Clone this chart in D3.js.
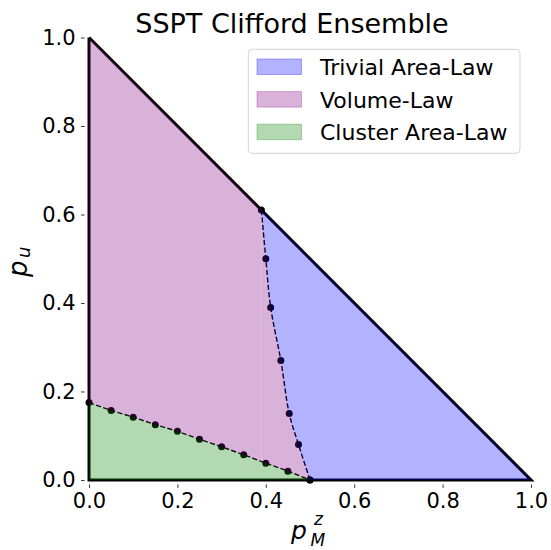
<!DOCTYPE html>
<html>
<head>
<meta charset="utf-8">
<script src="https://cdn.jsdelivr.net/npm/d3@7"></script>
<style>
  html, body { margin: 0; padding: 0; background: #fff; }
  svg { display: block; font-family: "DejaVu Sans", sans-serif; }
</style>
</head>
<body>
<svg id="chart" width="551" height="550"></svg>
<script>
// Phase boundary between the cluster area-law and volume-law phases
const clusterX = [0.00, 0.05, 0.10, 0.15, 0.20, 0.25, 0.30, 0.35, 0.40, 0.45, 0.50];
const clusterY = [0.175, 0.157, 0.142, 0.125, 0.110, 0.092, 0.075, 0.057, 0.038, 0.020, 0.000];

// Phase boundary between the volume-law and trivial area-law phases
const criticalX = [0.390, 0.400, 0.411, 0.434, 0.453, 0.474, 0.500];
const criticalY = [0.610, 0.500, 0.390, 0.270, 0.150, 0.080, 0.000];

// Allowed region p_M^z + p_u <= 1
const triangleX = [0, 1, 0, 0];
const triangleY = [1, 0, 0, 1];

const xTicks = [0.0, 0.2, 0.4, 0.6, 0.8, 1.0];
const yTicks = [0.0, 0.2, 0.4, 0.6, 0.8, 1.0];

const phaseNames = ["Trivial Area-Law", "Volume-Law", "Cluster Area-Law"];
const phaseColors = ["rgb(0,0,255)", "rgb(128,0,128)", "rgb(0,128,0)"];

const svg = d3.select("#chart");

const x = d3.scaleLinear().domain([-0.01, 1.01]).range([84.6, 535.4]);
const y = d3.scaleLinear().domain([-0.01, 1.01]).range([484.4, 33.1]);

const pts = (xs, ys) => xs.map((v, i) => [v, ys[i]]);
const straight = d3.line().x(d => x(d[0])).y(d => y(d[1]));
const smooth = d3.line().x(d => x(d[0])).y(d => y(d[1])).curve(d3.curveCatmullRom.alpha(0.5));
const cont = s => "L" + s.slice(1);

const clusterPts = pts(clusterX, clusterY);
const criticalPts = pts(criticalX, criticalY);
const trianglePts = pts(triangleX, triangleY);
const critTop = criticalPts[0];
const critBottom = criticalPts[criticalPts.length - 1];

// Outline of the allowed triangle
svg.append("path")
  .attr("d", straight(trianglePts))
  .attr("fill", "none")
  .attr("stroke", "#000")
  .attr("stroke-width", 3)
  .attr("stroke-linejoin", "miter");

// Boundaries between phases
svg.append("path")
  .attr("d", straight(clusterPts))
  .attr("fill", "none")
  .attr("stroke", "#000")
  .attr("stroke-width", 1.4)
  .attr("stroke-dasharray", "5.2,2.3");

svg.append("path")
  .attr("d", smooth(criticalPts))
  .attr("fill", "none")
  .attr("stroke", "#000")
  .attr("stroke-width", 1.4)
  .attr("stroke-dasharray", "5.2,2.3");

svg.append("g").selectAll("circle")
  .data(clusterPts.concat(criticalPts))
  .join("circle")
  .attr("cx", d => x(d[0]))
  .attr("cy", d => y(d[1]))
  .attr("r", 3.5)
  .attr("fill", "#000");

// Shaded phase regions
const trivialPath = smooth(criticalPts) +
  cont(straight([critBottom, [triangleX[1], triangleY[1]], critTop])) + "Z";
const volumePath = straight([[triangleX[0], triangleY[0]], critTop]) +
  cont(smooth(criticalPts)) +
  cont(straight(clusterPts.slice().reverse())) + "Z";
const clusterPath = straight(clusterPts) +
  cont(straight([[triangleX[2], triangleY[2]]])) + "Z";

const regions = svg.append("g");
[trivialPath, volumePath, clusterPath].forEach((d, i) => {
  regions.append("path")
    .attr("d", d)
    .attr("fill", phaseColors[i])
    .attr("fill-opacity", 0.3)
    .attr("stroke", "none");
});

// faint seam inside the volume-law fill
const seamY = d3.scaleLinear().domain(clusterX).range(clusterY)(critTop[0]);
svg.append("line")
  .attr("x1", x(critTop[0])).attr("x2", x(critTop[0]))
  .attr("y1", y(critTop[1]) + 4).attr("y2", y(seamY))
  .attr("stroke", "#fff")
  .attr("stroke-opacity", 0.14)
  .attr("stroke-width", 1);

// Axes
const fmt = d3.format(".1f");
const xAxis = svg.append("g")
  .attr("transform", `translate(0,${y(-0.01)})`)
  .call(d3.axisBottom(x).tickValues(xTicks).tickFormat(fmt).tickSize(3.5).tickPadding(5.5));
const yAxis = svg.append("g")
  .attr("transform", `translate(${x(-0.01)},0)`)
  .call(d3.axisLeft(y).tickValues(yTicks).tickFormat(fmt).tickSize(3.5).tickPadding(5.5));

[xAxis, yAxis].forEach(a => {
  a.select(".domain").remove();
  a.selectAll(".tick line").attr("stroke", "#000").attr("stroke-width", 0.8);
  a.selectAll(".tick text")
    .attr("fill", "#000")
    .style("font-family", "'DejaVu Sans', sans-serif")
    .style("font-size", "21px");
});

// Title
svg.append("text")
  .attr("x", 292)
  .attr("y", 33)
  .attr("text-anchor", "middle")
  .style("font-size", "27px")
  .attr("fill", "#000")
  .text("SSPT Clifford Ensemble");

// x label: p_M^z (sub- and superscript stacked after the p)
const xl = svg.append("text")
  .attr("x", 291).attr("y", 538.5)
  .style("font-style", "italic")
  .style("font-size", "25px")
  .attr("fill", "#000");
xl.append("tspan").text("p");
xl.append("tspan").attr("x", 310.5).attr("dy", 7).style("font-size", "17px").text("M");
xl.append("tspan").attr("x", 314).attr("dy", -21).style("font-size", "17px").text("z");

// y label: p_u
const yl = svg.append("text")
  .attr("transform", "translate(27,277) rotate(-90)")
  .style("font-style", "italic")
  .style("font-size", "26px")
  .attr("fill", "#000");
yl.append("tspan").text("p");
yl.append("tspan").attr("x", 19).attr("dy", 3).style("font-size", "18px").text("u");

// Legend
const legend = svg.append("g");
legend.append("rect")
  .attr("x", 248.3).attr("y", 49.3)
  .attr("width", 271.7).attr("height", 104)
  .attr("rx", 4).attr("ry", 4)
  .attr("fill", "#fff").attr("fill-opacity", 0.8)
  .attr("stroke", "#d4d4d4").attr("stroke-width", 1);

phaseNames.forEach((name, i) => {
  const rowY = 59 + i * 32.6;
  legend.append("rect")
    .attr("x", 257).attr("y", rowY)
    .attr("width", 44.5).attr("height", 15.5)
    .attr("fill", phaseColors[i]).attr("fill-opacity", 0.3)
    .attr("stroke", phaseColors[i]).attr("stroke-opacity", 0.3).attr("stroke-width", 1);
  legend.append("text")
    .attr("x", 320).attr("y", rowY + 16)
    .style("font-size", "22px")
    .attr("fill", "#000")
    .text(name);
});
</script>
</body>
</html>
